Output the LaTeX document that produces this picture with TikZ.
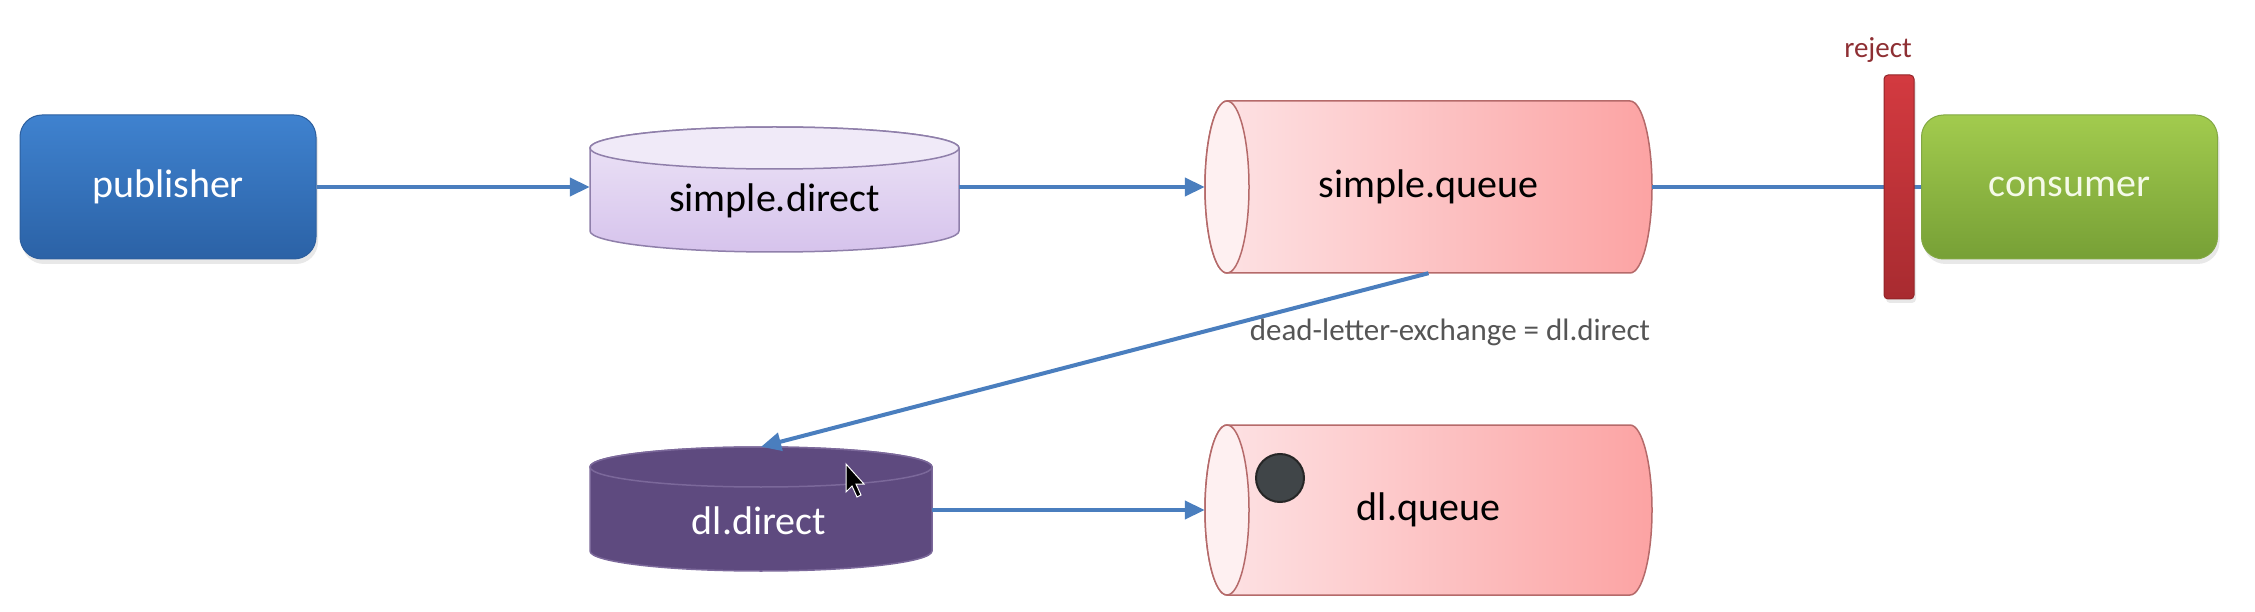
\documentclass[tikz,border=0pt]{standalone}
\usepackage{fontspec}
\setmainfont{Carlito}
\usetikzlibrary{arrows.meta,shadows}
\definecolor{pubtop}{HTML}{3F82CF}
\definecolor{pubbot}{HTML}{2B62A6}
\definecolor{publine}{HTML}{2D5F9E}
\definecolor{contop}{HTML}{A2CB4E}
\definecolor{conbot}{HTML}{77A036}
\definecolor{conline}{HTML}{82A843}
\definecolor{context}{HTML}{F5FAE8}
\definecolor{rejtop}{HTML}{D33A40}
\definecolor{rejbot}{HTML}{A82B30}
\definecolor{rejline}{HTML}{922428}
\definecolor{arrowc}{HTML}{4A7EBE}
\definecolor{qleft}{HTML}{FDE4E6}
\definecolor{qright}{HTML}{FCA3A3}
\definecolor{qend}{HTML}{FEF0F1}
\definecolor{qline}{HTML}{B56A6A}
\definecolor{sdtop}{HTML}{F0EAF8}
\definecolor{sdbodya}{HTML}{EDE5F7}
\definecolor{sdbodyb}{HTML}{D6C3EC}
\definecolor{sdline}{HTML}{8F7FAA}
\definecolor{dlfill}{HTML}{5E4A7F}
\definecolor{dlline}{HTML}{7B689A}
\definecolor{labgray}{HTML}{555555}
\definecolor{rejlab}{HTML}{8E2F33}
\definecolor{dotc}{HTML}{404548}
\begin{document}
\begin{tikzpicture}[x=1pt,y=1pt,
  bigtext/.style={font=\fontsize{40}{48}\selectfont},
  flow/.style={draw=arrowc, line width=4pt, -{Triangle[length=20pt,width=18pt]}},
  plainline/.style={draw=arrowc, line width=4pt},
  roundbox/.style={rounded corners=22pt, line width=1pt, inner sep=0pt,
    minimum width=296pt, minimum height=144pt, bigtext,
    drop shadow={opacity=0.18, shadow xshift=2pt, shadow yshift=-5pt}},
  frame/.style={inner sep=0pt, draw=none},
  qshape/.style={draw=qline, line width=1.5pt, left color=qleft, right color=qright},
  qend/.style={draw=qline, line width=1.5pt, fill=qend},
]
\useasboundingbox (0,0) rectangle (2255,-612);

% ---------- publisher ----------
\node[roundbox, top color=pubtop, bottom color=pubbot, draw=publine, text=white] (pub) at (168,-187) {publisher};

% ---------- simple.direct (vertical cylinder) ----------
\path[draw=sdline, line width=1.5pt, top color=sdbodya, bottom color=sdbodyb]
  (590,-148) -- (590,-231) arc[start angle=180,end angle=360,x radius=184.5,y radius=21]
  -- (959,-148) arc[start angle=0,end angle=180,x radius=184.5,y radius=21] -- cycle;
\path[draw=sdline, line width=1.5pt, fill=sdtop] (774.5,-148) ellipse[x radius=184.5, y radius=21];
\node[frame, minimum width=369pt, minimum height=125pt] (sd) at (774.5,-189.5) {};
\node[bigtext, text=black] (sdt) at (774.5,-201) {simple.direct};

% ---------- simple.queue (horizontal cylinder) ----------
\path[qshape] (1227,-101) -- (1630,-101) arc[start angle=90,end angle=-90,x radius=22,y radius=86]
  -- (1227,-273) arc[start angle=270,end angle=90,x radius=22,y radius=86] -- cycle;
\path[qend] (1227,-187) ellipse[x radius=22, y radius=86];
\node[frame, minimum width=447pt, minimum height=172pt, bigtext, text=black] (sq) at (1428.5,-187) {simple.queue};

% ---------- consumer ----------
\node[roundbox, top color=contop, bottom color=conbot, draw=conline, text=context] (con) at (2069.5,-187) {consumer};

% line from simple.queue to consumer (behind the reject bar)
\draw[plainline] (sq.east) -- (con.west);

% ---------- reject bar ----------
\node[inner sep=0pt, minimum width=30pt, minimum height=224pt, rounded corners=4pt,
  top color=rejtop, bottom color=rejbot, draw=rejline, line width=1pt,
  drop shadow={opacity=0.18, shadow xshift=2pt, shadow yshift=-4pt}] (rej) at (1899,-187) {};
\node[font=\fontsize{29}{34}\selectfont, text=rejlab] (rejl) at (1878,-50) {reject};

% ---------- dl.direct (vertical cylinder, dark) ----------
\path[draw=dlline, line width=1.5pt, fill=dlfill]
  (590,-467) -- (590,-551) arc[start angle=180,end angle=360,x radius=171,y radius=20]
  -- (932,-467) arc[start angle=0,end angle=180,x radius=171,y radius=20] -- cycle;
\path[draw=dlline, line width=1.5pt, fill=dlfill] (761,-467) ellipse[x radius=171, y radius=20];
\node[frame, minimum width=342pt, minimum height=124pt] (dd) at (761,-509) {};
\node[bigtext, text=white] (ddt) at (759,-521) {dl.direct};

% ---------- dl.queue (horizontal cylinder) ----------
\path[qshape] (1227,-425) -- (1630,-425) arc[start angle=90,end angle=-90,x radius=22,y radius=85]
  -- (1227,-595) arc[start angle=270,end angle=90,x radius=22,y radius=85] -- cycle;
\path[qend] (1227,-510) ellipse[x radius=22, y radius=85];
\node[frame, minimum width=447pt, minimum height=170pt, bigtext, text=black] (dq) at (1428.5,-510) {dl.queue};
\node[circle, inner sep=0pt, minimum size=48pt, fill=dotc, draw=black!85, line width=2pt] (msg) at (1280,-478) {};

% ---------- connectors ----------
\draw[flow] (pub.east) -- (pub.east -| sd.west);
\draw[flow] (sq.west -| sd.east) -- (sq.west);
\draw[flow] (sq.south) -- (dd.north);
\draw[flow] (dq.west -| dd.east) -- (dq.west);

\node[font=\fontsize{31}{36}\selectfont, text=labgray] (dlx) at (1450,-332) {dead-letter-exchange = dl.direct};

% mouse pointer
\path[fill=black, draw=white, line width=1pt]
  (846,-464) -- (846,-492) -- (852,-486) -- (857,-497) -- (861,-495) -- (856,-484) -- (864,-484) -- cycle;
\end{tikzpicture}
\end{document}
